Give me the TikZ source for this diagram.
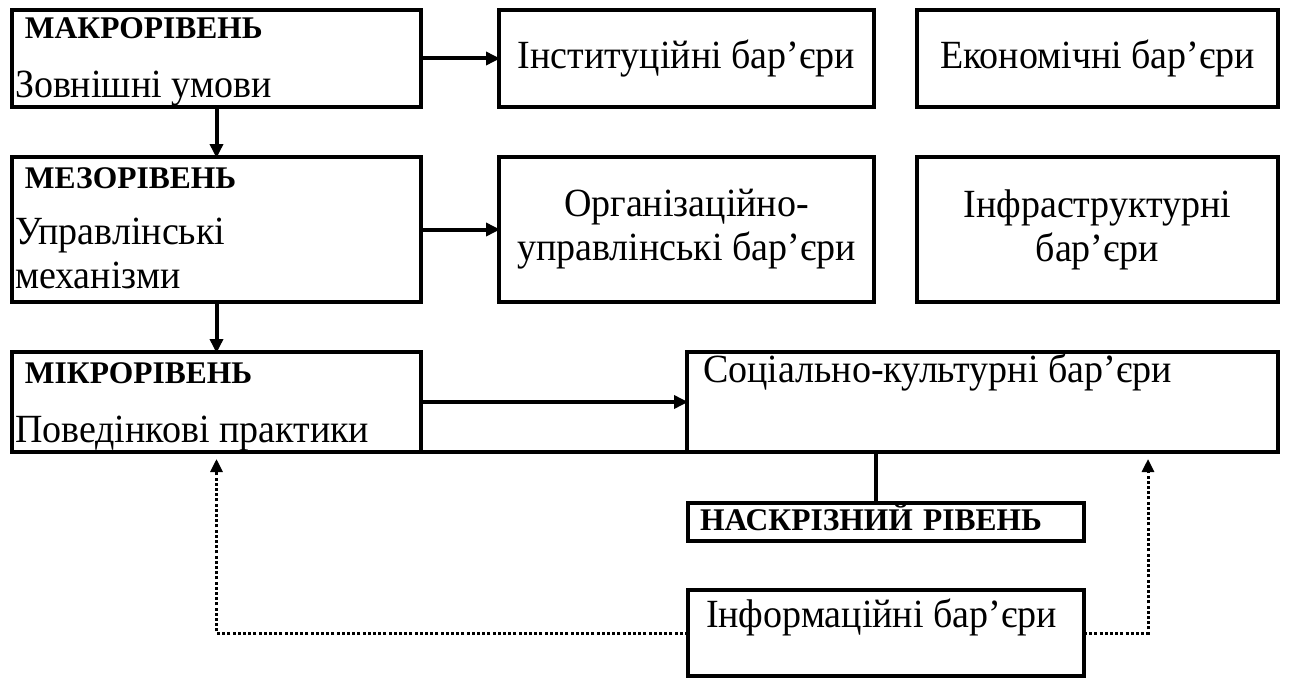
\documentclass[tikz,border=0pt]{standalone}
\usepackage{fontspec}
\setmainfont{Liberation Serif}[FakeStretch=0.95]
\newfontfamily\hdfont{Liberation Serif}[WordSpace=1.3]
\usetikzlibrary{arrows.meta,calc}
\newcommand\hd[1]{{\hdfont\fontsize{31.5}{34}\selectfont\bfseries #1}}
% parbox with fixed size, top aligned, first baseline at #3 below top
\newcommand\tb[4]{\parbox[c][#1][t]{#2}{\raggedright\rule{0pt}{#3}#4}}
\tikzset{
  box/.style={draw, line width=4pt, anchor=north west, inner sep=0pt, outer sep=0pt,
    font=\fontsize{40}{44}\selectfont},
  cbox/.style={box, align=center},
  conn/.style={line width=4pt, -{Triangle[length=14pt,width=13pt]}, shorten >=-1pt},
  plain/.style={line width=4pt},
  dots/.style={line width=3pt, dash pattern=on 3pt off 2.2pt, -{Triangle[length=13pt,width=12pt]}}
}
\begin{document}
\begin{tikzpicture}[x=1pt,y=-1pt]
\useasboundingbox (0,0) rectangle (1292,682);
% row 1
\node[box] (macro) at (12,10)
  {\tb{97pt}{409pt}{29pt}{\hspace*{13pt}\hd{МАКРОРІВЕНЬ}\\[15pt]\hspace*{3pt}Зовнішні умови}};
\node[cbox, minimum width=375pt, minimum height=97pt] (inst) at (499,10)
  {Інституційні бар’єри};
\node[cbox, minimum width=361pt, minimum height=97pt] (econ) at (917,10)
  {Економічні бар’єри};
% row 2
\node[box] (mezo) at (12,157)
  {\tb{145pt}{409pt}{31pt}{\hspace*{13pt}\hd{МЕЗОРІВЕНЬ}\\[12pt]\hspace*{3pt}Управлінські\\\hspace*{3pt}механізми}};
\node[cbox, minimum width=375pt, minimum height=145pt] (org) at (499,157)
  {Організаційно-\\управлінські бар’єри};
\node[cbox, minimum width=361pt, minimum height=145pt] (infra) at (917,157)
  {Інфраструктурні\\бар’єри};
% row 3
\node[box] (mikro) at (12,352)
  {\tb{100pt}{409pt}{31pt}{\hspace*{13pt}\hd{МІКРОРІВЕНЬ}\\[15pt]\hspace*{3pt}Поведінкові практики}};
\node[box] (soc) at (687,352)
  {\tb{100pt}{591pt}{30pt}{\hspace*{16pt}Соціально-культурні бар’єри}};
% cross level
\node[box] (nask) at (688,503)
  {\tb{38pt}{396pt}{27pt}{\hspace*{12pt}\hd{НАСКРІЗНИЙ РІВЕНЬ}}};
\node[box] (info) at (688,590)
  {\tb{86pt}{396pt}{37pt}{\hspace*{18pt}Інформаційні бар’єри}};
\coordinate (sr) at ($(soc.south east)+(-130,0)$);
\coordinate (nt) at ($(nask.north)+(-10,0)$);
% connectors
\draw[conn] (macro.east) -- (macro.east -| inst.west);
\draw[conn] (macro.south) -- (mezo.north);
\draw[conn] (mezo.east) -- (mezo.east -| org.west);
\draw[conn] (mezo.south) -- (mikro.north);
\draw[conn] (mikro.east) -- (mikro.east -| soc.west);
\draw[plain] (mikro.south east) -- (soc.south west);
\draw[plain] (nt) -- (nt |- soc.south);
\draw[dots, shorten >=7pt] (info.west) -| (mikro.south);
\draw[dots, shorten >=7pt] (info.east) -| (sr);
\end{tikzpicture}
\end{document}
